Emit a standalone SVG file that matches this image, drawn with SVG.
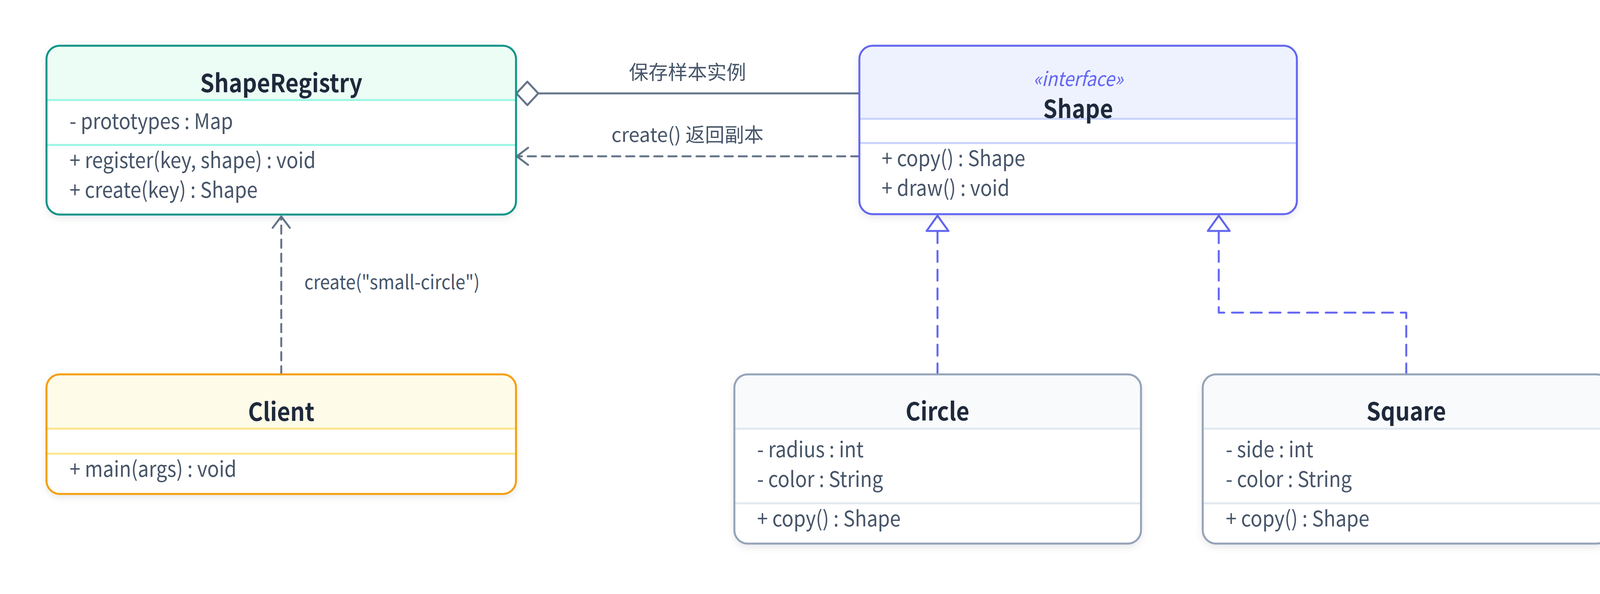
<svg xmlns="http://www.w3.org/2000/svg" width="4360" height="1520" viewBox="0 0 4360 1520">
<style>
text{font-family:"Noto Sans CJK SC","Noto Sans",sans-serif}
.title{font-size:64px;font-weight:700;fill:#1e293b;text-anchor:middle}
.mem{font-size:55px;fill:#475569}
.stereo{font-size:50px;font-style:italic;fill:#6366f1;text-anchor:middle}
.lbl{font-size:50px;fill:#475569}
.box{stroke-width:5}
.div{stroke-width:5}
.conn{fill:none;stroke:#64748b;stroke-width:5;stroke-linecap:round;stroke-linejoin:round}
.real{fill:none;stroke:#6366f1;stroke-width:5;stroke-linecap:round;stroke-linejoin:round}
</style>
<defs>
<filter id="sh" x="-10%" y="-10%" width="120%" height="130%">
<feDropShadow dx="0" dy="8" stdDeviation="10" flood-color="#0f172a" flood-opacity="0.10"/>
</filter>
</defs>
<rect width="4360" height="1520" fill="#ffffff"/>

<g id="connectors">
<line class="conn" x1="1378" y1="239" x2="2200" y2="239"/>
<polygon class="conn" points="1322,239 1350,209 1378,239 1350,269" style="fill:#ffffff"/>
<path class="conn" d="M2200,400 H1326" stroke-dasharray="21 15"/>
<polyline class="conn" points="1352,378 1323,400 1352,422"/>
<path class="conn" d="M720,958 V557" stroke-dasharray="21 15"/>
<polyline class="conn" points="698,583 720,554 742,583"/>
<path class="real" d="M2400,958 V591" stroke-dasharray="28 20"/>
<polygon class="real" points="2400,552 2372,591 2428,591" style="fill:#ffffff"/>
<path class="real" d="M3600,958 V800 H3120 V591" stroke-dasharray="28 20"/>
<polygon class="real" points="3120,552 3092,591 3148,591" style="fill:#ffffff"/>
<text class="lbl" x="1760" y="203" text-anchor="middle">保存样本实例</text>
<text class="lbl" x="1760" y="363" text-anchor="middle">create() 返回副本</text>
<text class="lbl" x="779" y="740" transform="matrix(0.91 0 0 1 70.11 0)">create("small-circle")</text>
</g>

<g id="ShapeRegistry">
<rect x="119" y="117" width="1202" height="432" rx="34" fill="#ffffff" filter="url(#sh)"/>
<path d="M119,256 V151 A34,34 0 0 1 153,117 H1287 A34,34 0 0 1 1321,151 V256 Z" fill="#ecfdf5"/>
<line class="div" x1="119" y1="256" x2="1321" y2="256" stroke="#99f6e4"/>
<line class="div" x1="119" y1="371" x2="1321" y2="371" stroke="#99f6e4"/>
<rect class="box" x="119" y="117" width="1202" height="432" rx="34" fill="none" stroke="#0d9488"/>
<text class="title" x="720" y="236" transform="matrix(0.91 0 0 1 64.8 0)">ShapeRegistry</text>
<g transform="matrix(0.91 0 0 1 16.02 0)">
<text class="mem" x="178" y="330">- prototypes : Map</text>
<text class="mem" x="178" y="430">+ register(key, shape) : void</text>
<text class="mem" x="178" y="506">+ create(key) : Shape</text>
</g>
</g>

<g id="Shape">
<rect x="2200" y="117" width="1120" height="431" rx="34" fill="#ffffff" filter="url(#sh)"/>
<path d="M2200,304 V151 A34,34 0 0 1 2234,117 H3286 A34,34 0 0 1 3320,151 V304 Z" fill="#eef2ff"/>
<line class="div" x1="2200" y1="304" x2="3320" y2="304" stroke="#c7d2fe"/>
<line class="div" x1="2200" y1="366" x2="3320" y2="366" stroke="#c7d2fe"/>
<rect class="box" x="2200" y="117" width="1120" height="431" rx="34" fill="none" stroke="#6366f1"/>
<g transform="matrix(0.91 0 0 1 248.4 0)">
<text class="stereo" x="2760" y="220">«interface»</text>
<text class="title" x="2760" y="302">Shape</text>
</g>
<g transform="matrix(0.91 0 0 1 203.13 0)">
<text class="mem" x="2257" y="425">+ copy() : Shape</text>
<text class="mem" x="2257" y="501">+ draw() : void</text>
</g>
</g>

<g id="Client">
<rect x="119" y="958" width="1202" height="306" rx="34" fill="#ffffff" filter="url(#sh)"/>
<path d="M119,1097 V992 A34,34 0 0 1 153,958 H1287 A34,34 0 0 1 1321,992 V1097 Z" fill="#fefbe8"/>
<line class="div" x1="119" y1="1097" x2="1321" y2="1097" stroke="#fde68a"/>
<line class="div" x1="119" y1="1161" x2="1321" y2="1161" stroke="#fde68a"/>
<rect class="box" x="119" y="958" width="1202" height="306" rx="34" fill="none" stroke="#f59e0b"/>
<text class="title" x="720" y="1077" transform="matrix(0.91 0 0 1 64.8 0)">Client</text>
<text class="mem" x="178" y="1220" transform="matrix(0.91 0 0 1 16.02 0)">+ main(args) : void</text>
</g>

<g id="Circle">
<rect x="1880" y="958" width="1041" height="433" rx="34" fill="#ffffff" filter="url(#sh)"/>
<path d="M1880,1097 V992 A34,34 0 0 1 1914,958 H2887 A34,34 0 0 1 2921,992 V1097 Z" fill="#f8fafc"/>
<line class="div" x1="1880" y1="1097" x2="2921" y2="1097" stroke="#e2e8f0"/>
<line class="div" x1="1880" y1="1288" x2="2921" y2="1288" stroke="#e2e8f0"/>
<rect class="box" x="1880" y="958" width="1041" height="433" rx="34" fill="none" stroke="#94a3b8"/>
<text class="title" x="2400" y="1076" transform="matrix(0.91 0 0 1 216 0)">Circle</text>
<g transform="matrix(0.91 0 0 1 174.42 0)">
<text class="mem" x="1938" y="1170">- radius : int</text>
<text class="mem" x="1938" y="1246">- color : String</text>
<text class="mem" x="1938" y="1347">+ copy() : Shape</text>
</g>
</g>

<g id="Square">
<rect x="3079" y="958" width="1042" height="433" rx="34" fill="#ffffff" filter="url(#sh)"/>
<path d="M3079,1097 V992 A34,34 0 0 1 3113,958 H4087 A34,34 0 0 1 4121,992 V1097 Z" fill="#f8fafc"/>
<line class="div" x1="3079" y1="1097" x2="4121" y2="1097" stroke="#e2e8f0"/>
<line class="div" x1="3079" y1="1288" x2="4121" y2="1288" stroke="#e2e8f0"/>
<rect class="box" x="3079" y="958" width="1042" height="433" rx="34" fill="none" stroke="#94a3b8"/>
<text class="title" x="3600" y="1076" transform="matrix(0.91 0 0 1 324 0)">Square</text>
<g transform="matrix(0.91 0 0 1 282.42 0)">
<text class="mem" x="3138" y="1170">- side : int</text>
<text class="mem" x="3138" y="1246">- color : String</text>
<text class="mem" x="3138" y="1347">+ copy() : Shape</text>
</g>
</g>
</svg>
